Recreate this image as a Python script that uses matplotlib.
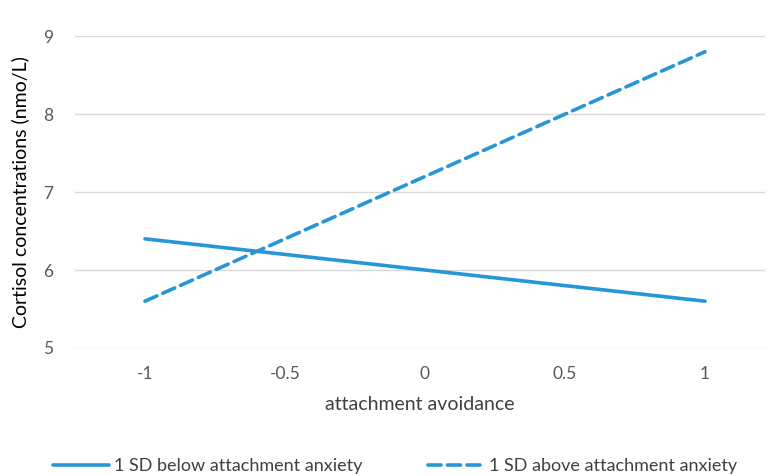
import matplotlib
matplotlib.use("Agg")
import matplotlib.pyplot as plt

x_vals = [-1, 0, 1]
below_anxiety = [6.4, 6.0, 5.6]
above_anxiety = [5.6, 7.2, 8.8]
x_ticks = [-1, -0.5, 0, 0.5, 1]
x_tick_labels = ["-1", "-0.5", "0", "0.5", "1"]
y_ticks = [5, 6, 7, 8, 9]
series_names = ["1 SD below attachment anxiety", "1 SD above attachment anxiety"]

plt.rcParams['font.family'] = ['Lato', 'DejaVu Sans']
color = "#2696d6"

fig = plt.figure(figsize=(7.7, 4.76), dpi=100)
ax = fig.add_axes([0.0974, 0.269, 0.896, 0.655])
ax.plot(x_vals, below_anxiety, color=color, lw=2.6, solid_capstyle='round', label=series_names[0])
ax.plot(x_vals, above_anxiety, color=color, lw=2.6, ls=(0, (3.6, 1.8)), dash_capstyle='round', label=series_names[1])
ax.set_xlim(-1.25, 1.214)
ax.set_ylim(5, 9)
ax.set_xticks(x_ticks)
ax.set_xticklabels(x_tick_labels)
ax.set_yticks(y_ticks)
ax.grid(axis='y', color='#d9d9d9', lw=1)
ax.set_axisbelow(True)
for s in ax.spines.values():
    s.set_visible(False)
ax.xaxis.set_tick_params(length=0, labelsize=12.5, labelcolor='#595959', pad=13)
ax.yaxis.set_tick_params(length=0, labelsize=12.5, labelcolor='#595959', pad=16)
ax.set_xlabel("attachment avoidance", fontsize=14, color='#404040', labelpad=10)
ax.set_ylabel("Cortisol concentrations (nmo/L)", fontsize=14, color='#000000', labelpad=10)
leg = fig.legend(loc='lower center', ncol=2, frameon=False, fontsize=13,
                 bbox_to_anchor=(0.513, -0.03), handlelength=3.1, handletextpad=0.3,
                 columnspacing=3.6)
for t in leg.get_texts():
    t.set_color('#404040')
fig.savefig("out.png", dpi=100)
